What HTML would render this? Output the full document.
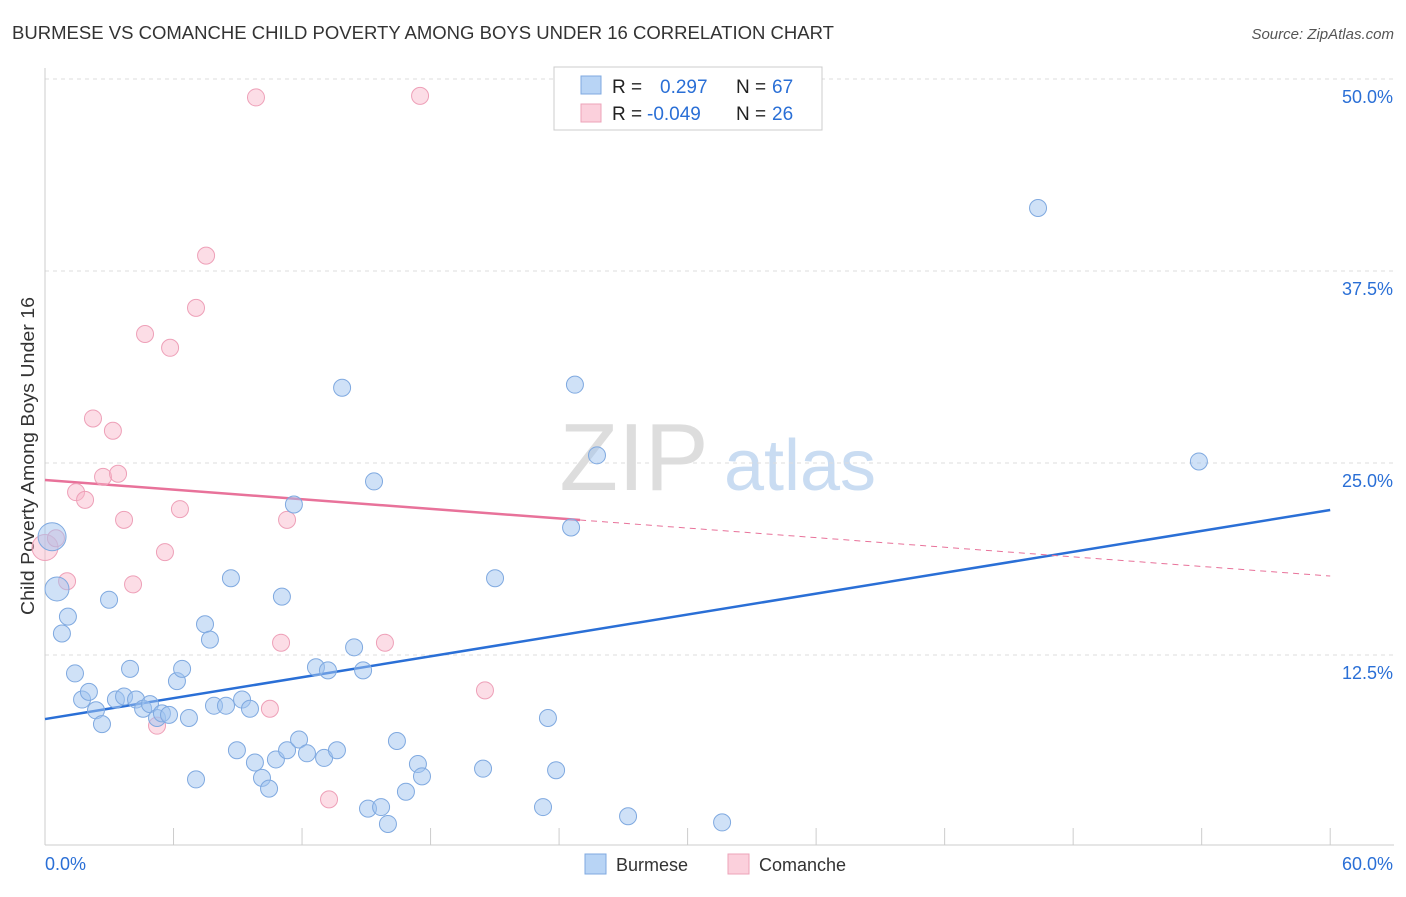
<!DOCTYPE html>
<html><head><meta charset="utf-8"><style>
body{margin:0;background:#fff;font-family:"Liberation Sans",sans-serif;}
svg text{font-family:"Liberation Sans",sans-serif;}
</style></head><body>
<svg id="chart" width="1406" height="892" viewBox="0 0 1406 892">
<text x="12" y="39" font-size="18" fill="#333" textLength="822" lengthAdjust="spacingAndGlyphs">BURMESE VS COMANCHE CHILD POVERTY AMONG BOYS UNDER 16 CORRELATION CHART</text>
<text x="1394" y="39" font-size="15" fill="#555" font-style="italic" text-anchor="end">Source: ZipAtlas.com</text>
<text x="34" y="456" font-size="18" fill="#333" text-anchor="middle" textLength="318" lengthAdjust="spacingAndGlyphs" transform="rotate(-90 34 456)">Child Poverty Among Boys Under 16</text>
<g>
<text x="634" y="490" font-size="96" font-family="Liberation Serif,serif" fill="#ddd" text-anchor="middle">ZIP</text>
<text x="800" y="490" font-size="72" fill="#c9dcf2" text-anchor="middle">atlas</text>
</g>
<g id="grid"></g><g id="axes"></g><g id="lines"></g><g id="pts"></g>
<g>
<rect x="554" y="67" width="268" height="63" fill="#fff" stroke="#ccc"/>
<rect x="581" y="76" width="20" height="18" fill="#b8d4f5" stroke="#7fa9e0"/>
<rect x="581" y="104" width="20" height="18" fill="#fbd0dc" stroke="#eda3b9"/>
<text x="612" y="93" font-size="19" fill="#222">R = </text><text x="660" y="93" font-size="19" fill="#2a6fd6">0.297</text>
<text x="736" y="93" font-size="19" fill="#222">N = </text><text x="772" y="93" font-size="19" fill="#2a6fd6">67</text>
<text x="612" y="120" font-size="19" fill="#222">R = </text><text x="647" y="120" font-size="19" fill="#2a6fd6">-0.049</text>
<text x="736" y="120" font-size="19" fill="#222">N = </text><text x="772" y="120" font-size="19" fill="#2a6fd6">26</text>
</g>
<g>
<rect x="585" y="854" width="21" height="20" fill="#b8d4f5" stroke="#7fa9e0"/>
<text x="616" y="871" font-size="18" fill="#333">Burmese</text>
<rect x="728" y="854" width="21" height="20" fill="#fbd0dc" stroke="#eda3b9"/>
<text x="759" y="871" font-size="18" fill="#333">Comanche</text>
</g>
</svg>
<script>
const blueX=[0.33,0.56,1.07,0.79,1.40,1.73,2.05,2.38,2.66,2.99,3.31,3.69,3.97,4.25,4.58,4.90,5.23,5.46,5.79,6.16,6.40,6.72,7.05,7.47,7.70,7.89,8.45,8.68,8.96,9.20,9.57,9.80,10.13,10.46,10.78,11.06,11.30,11.62,11.86,12.23,12.65,13.03,13.21,13.63,13.87,14.43,14.85,15.08,15.36,15.69,16.01,16.43,16.85,17.41,17.60,20.45,21.01,23.48,23.25,23.86,24.56,24.74,25.77,27.22,31.61,46.36,53.87];
const blueY=[20.2,16.8,15.0,13.9,11.3,9.6,10.1,8.9,8.0,16.1,9.6,9.8,11.6,9.6,9.0,9.3,8.4,8.7,8.6,10.8,11.6,8.4,4.4,14.5,13.5,9.2,9.2,17.5,6.3,9.6,9.0,5.5,4.5,3.8,5.7,16.3,6.3,22.3,7.0,6.1,11.7,5.8,11.5,6.3,29.9,13.0,11.5,2.5,23.8,2.6,1.5,6.9,3.6,5.4,4.6,5.1,17.5,8.4,2.6,5.0,20.8,30.1,25.5,2.0,1.6,41.6,25.1];
const pinkX=[0,0.51,1.03,1.45,1.87,2.24,2.71,3.17,3.41,3.69,4.11,4.67,5.60,5.84,6.30,7.05,7.52,9.85,10.50,11.02,11.30,13.26,15.87,17.51,20.54,5.23];
const pinkY=[19.5,20.1,17.3,23.1,22.6,27.9,24.1,27.1,24.3,21.3,17.1,33.4,19.2,32.5,22.0,35.1,38.5,48.8,9.0,13.3,21.3,3.1,13.3,48.9,10.2,7.9];
const yTicks=[12.5,25,37.5,50];
const xTickLabels=["0.0%","60.0%"];
const blueFit=[8.33,21.94];
const pinkFit=[23.89,17.64];
const pinkSolidEnd=24.98;
const NS="http://www.w3.org/2000/svg";
const xs=v=>45+v*21.42, ys=v=>847-v*15.36;
function mk(tag,at,par){const e=document.createElementNS(NS,tag);for(const k in at)e.setAttribute(k,at[k]);document.getElementById(par).appendChild(e);return e;}
yTicks.forEach(t=>{
 const l=mk('line',{x1:45,x2:1394,y1:ys(t),y2:ys(t),stroke:'#ddd','stroke-dasharray':'4,4'},'grid');
 
 
 const tx=mk('text',{x:1393,y:ys(t)+24,'font-size':18,fill:'#2a6fd6','text-anchor':'end'},'grid');
 tx.textContent=t.toFixed(1)+'%';
 
 
});
mk('line',{x1:45,x2:45,y1:68,y2:845,stroke:'#ccc'},'axes');
mk('line',{x1:45,x2:1394,y1:845,y2:845,stroke:'#ccc'},'axes');
for(let i=1;i<=10;i++){const x=xs(i*6);mk('line',{x1:x,x2:x,y1:828,y2:845,stroke:'#ccc'},'axes');}
const xl0=mk('text',{x:45,y:870,'font-size':18,fill:'#2a6fd6'},'axes');xl0.textContent=xTickLabels[0];


const xl1=mk('text',{x:1393,y:870,'font-size':18,fill:'#2a6fd6','text-anchor':'end'},'axes');xl1.textContent=xTickLabels[1];


pinkX.forEach((x,i)=>{
 const c=mk('circle',{cx:xs(x),cy:ys(pinkY[i]),r:i==0?13:8.5,fill:'rgba(248,180,200,0.45)',stroke:'#eea0b8','stroke-width':1},'pts');
 
 
});
blueX.forEach((x,i)=>{
 const c=mk('circle',{cx:xs(x),cy:ys(blueY[i]),r:i==0?14:(i==1?12:8.5),fill:'rgba(160,196,240,0.5)',stroke:'#7fa9e0','stroke-width':1},'pts');
 
 
});
const bl=mk('line',{x1:xs(0),y1:ys(blueFit[0]),x2:xs(60),y2:ys(blueFit[1]),stroke:'#2a6fd6','stroke-width':2.5},'lines');


const pf=x=>pinkFit[0]+(pinkFit[1]-pinkFit[0])*x/60;
const pl=mk('line',{x1:xs(0),y1:ys(pf(0)),x2:xs(pinkSolidEnd),y2:ys(pf(pinkSolidEnd)),stroke:'#e8729a','stroke-width':2.5},'lines');


const pd=mk('line',{x1:xs(pinkSolidEnd),y1:ys(pf(pinkSolidEnd)),x2:xs(60),y2:ys(pf(60)),stroke:'#e8729a','stroke-width':1,'stroke-dasharray':'6,5'},'lines');


</script>
</body></html>
